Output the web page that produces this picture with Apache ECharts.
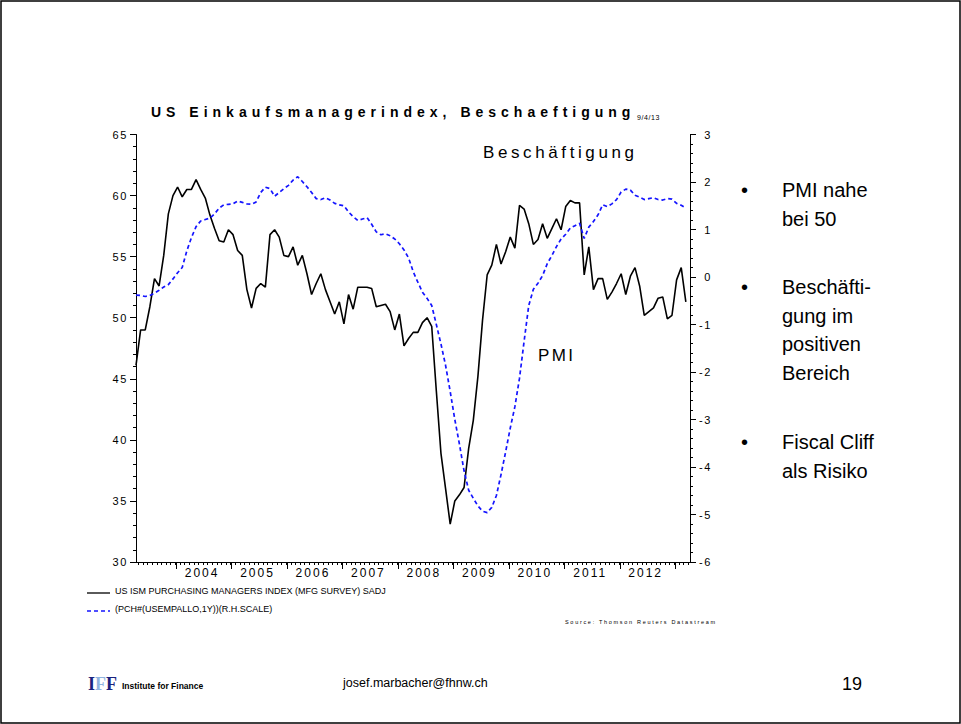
<!DOCTYPE html>
<html>
<head>
<meta charset="utf-8">
<script src="https://cdn.jsdelivr.net/npm/echarts@6/dist/echarts.min.js"></script>
<style>
  html, body { margin: 0; padding: 0; background: #fff; }
  #main { width: 961px; height: 724px; }
</style>
</head>
<body>
<div id="main"></div>
<script>
// Monthly observations, April 2003 to March 2013 (index 0 = Apr 2003)
const startYear = 2003;
const startMonth = 4; // April

// US ISM Purchasing Managers Index (manufacturing), left scale
const pmi = [
  46.1, 49.0, 49.0, 50.9, 53.2, 52.6, 55.1, 58.5, 60.0, 60.7,
  59.9, 60.5, 60.5, 61.3, 60.5, 59.8, 58.4, 57.3, 56.3, 56.2,
  57.2, 56.8, 55.5, 55.1, 52.3, 50.8, 52.4, 52.8, 52.5, 56.8,
  57.2, 56.6, 55.1, 55.0, 55.8, 54.3, 55.1, 53.6, 51.9, 52.8,
  53.6, 52.3, 51.3, 50.3, 51.3, 49.5, 51.9, 50.7, 52.5, 52.5,
  52.5, 52.4, 50.9, 51.0, 51.1, 50.5, 49.0, 50.3, 47.7, 48.3,
  48.8, 48.8, 49.6, 50.0, 49.3, 44.0, 38.9, 36.0, 33.1, 35.0,
  35.5, 36.1, 39.3, 41.6, 45.2, 49.8, 53.5, 54.3, 56.0, 54.4,
  55.4, 56.6, 55.7, 59.2, 58.9, 57.7, 56.0, 56.4, 57.7, 56.5,
  57.3, 58.1, 57.2, 59.1, 59.6, 59.4, 59.4, 53.5, 55.8, 52.3,
  53.2, 53.2, 51.5, 52.1, 52.8, 53.6, 51.9, 53.4, 54.1, 52.6,
  50.2, 50.5, 50.8, 51.6, 51.7, 49.9, 50.2, 53.1, 54.1, 51.3
];

// Employment, % change on a year earlier, right scale
const employment = [
  -0.38, -0.39, -0.41, -0.39, -0.34, -0.28, -0.21, -0.16, -0.04, 0.09,
  0.20, 0.55, 0.83, 1.06, 1.18, 1.21, 1.24, 1.33, 1.45, 1.52,
  1.53, 1.54, 1.60, 1.57, 1.54, 1.53, 1.58, 1.78, 1.89, 1.86,
  1.70, 1.78, 1.86, 1.93, 2.04, 2.11, 2.01, 1.90, 1.78, 1.65,
  1.63, 1.67, 1.62, 1.55, 1.52, 1.50, 1.37, 1.27, 1.19, 1.22,
  1.25, 1.11, 0.95, 0.89, 0.91, 0.87, 0.80, 0.70, 0.57, 0.40,
  0.11, -0.11, -0.32, -0.45, -0.60, -1.00, -1.41, -1.86, -2.41, -3.00,
  -3.52, -4.08, -4.49, -4.66, -4.82, -4.93, -4.96, -4.85, -4.60, -4.16,
  -3.68, -3.18, -2.73, -2.13, -1.35, -0.60, -0.26, -0.13, 0.03, 0.28,
  0.45, 0.64, 0.80, 0.90, 1.03, 1.08, 1.13, 0.81, 1.05, 1.17,
  1.31, 1.52, 1.48, 1.54, 1.63, 1.79, 1.85, 1.83, 1.72, 1.68,
  1.63, 1.65, 1.67, 1.63, 1.62, 1.65, 1.64, 1.55, 1.51, 1.45
];

// Year labels on the time axis
const yearLabels = ['2004', '2005', '2006', '2007', '2008', '2009', '2010', '2011', '2012'];

// Axis tick labels
const leftTicks = [30, 35, 40, 45, 50, 55, 60, 65];
const rightTicks = [-6, -5, -4, -3, -2, -1, 0, 1, 2, 3];

const seriesNames = [
  'US ISM PURCHASING MANAGERS INDEX (MFG SURVEY) SADJ',
  '(PCH#(USEMPALLO,1Y))(R.H.SCALE)'
];
const chartTitle = 'US Einkaufsmanagerindex, Beschaeftigung';
const bullets = [
  ['PMI nahe', 'bei 50'],
  ['Beschäfti-', 'gung im', 'positiven', 'Bereich'],
  ['Fiscal Cliff', 'als Risiko']
];

const FONT = '"Liberation Sans", Arial, Helvetica, sans-serif';
const PMI_COLOR = '#000';
const EMP_COLOR = '#1414ff';

// month index of a January of a given year
const janIndex = y => (y - startYear) * 12 - (startMonth - 1);
const lastIndex = pmi.length - 1;

// month boundaries (minor ticks) and year boundaries (major ticks)
const monthTicks = [];
for (let i = 0; i <= lastIndex + 1; i++) monthTicks.push(i - 0.5);
const yearTicks = [];
for (let y = 2004; y <= 2013; y++) yearTicks.push(janIndex(y) - 0.3);
const yearMids = yearLabels.map(y => janIndex(+y) + 5.3);

const pmiData = pmi.map((v, i) => [i, v]);
const empData = employment.map((v, i) => [i, v]);

const xMin = 0, xMax = lastIndex + 0.9;

const chart = echarts.init(document.getElementById('main'), null, { renderer: 'svg' });

const bulletGraphics = [];
const bulletTops = [190, 287, 442];
bullets.forEach((lines, b) => {
  bulletGraphics.push({
    type: 'text', x: 741, y: bulletTops[b],
    style: { text: '•', font: '20px ' + FONT, fill: '#000', textVerticalAlign: 'middle' }
  });
  lines.forEach((line, j) => {
    bulletGraphics.push({
      type: 'text', x: 782, y: bulletTops[b] + j * 28.5,
      style: { text: line, font: '20px ' + FONT, fill: '#000', textVerticalAlign: 'middle' }
    });
  });
});

// key below the plot: one line sample and one caption per series
const keyGraphics = [
  { type: 'line', shape: { x1: 87, y1: 593, x2: 110, y2: 593 },
    style: { stroke: PMI_COLOR, lineWidth: 1.3 }, silent: true },
  { type: 'text', x: 115, y: 591,
    style: { text: seriesNames[0], font: '9px ' + FONT, fill: '#000', textVerticalAlign: 'middle' } },
  { type: 'line', shape: { x1: 87, y1: 611, x2: 110, y2: 611 },
    style: { stroke: EMP_COLOR, lineWidth: 1.6, lineDash: [4, 3] }, silent: true },
  { type: 'text', x: 115, y: 609,
    style: { text: seriesNames[1], font: '9px ' + FONT, fill: '#000', textVerticalAlign: 'middle' } }
];

chart.setOption({
  animation: false,
  backgroundColor: '#fff',
  grid: { left: 136, right: 271, top: 134.5, bottom: 162, containLabel: false },
  xAxis: [
    {
      type: 'value', min: xMin, max: xMax,
      axisLine: { show: true, onZero: false, lineStyle: { color: '#000', width: 1 } },
      axisTick: { show: true, customValues: monthTicks, length: 3, lineStyle: { color: '#000' } },
      axisLabel: { show: false },
      splitLine: { show: false }
    },
    {
      type: 'value', min: xMin, max: xMax, position: 'bottom',
      axisLine: { show: false, onZero: false },
      axisTick: { show: true, customValues: yearTicks, length: 7, lineStyle: { color: '#000' } },
      axisLabel: {
        show: true, customValues: yearMids, margin: 5,
        fontFamily: FONT, fontSize: 12, color: '#000',
        formatter: v => yearLabels[yearMids.indexOf(v)] || ''
      },
      splitLine: { show: false }
    }
  ],
  yAxis: [
    {
      type: 'value', position: 'left', min: leftTicks[0], max: leftTicks[leftTicks.length - 1], interval: 5,
      axisLine: { show: true, onZero: false, lineStyle: { color: '#000' } },
      axisTick: { show: true, length: 6, lineStyle: { color: '#000' } },
      minorTick: { show: true, splitNumber: 5, length: 3, lineStyle: { color: '#000' } },
      axisLabel: { fontFamily: FONT, fontSize: 11, color: '#000', margin: 8 },
      splitLine: { show: false }
    },
    {
      type: 'value', position: 'right', min: rightTicks[0], max: rightTicks[rightTicks.length - 1], interval: 1,
      axisLine: { show: true, onZero: false, lineStyle: { color: '#000' } },
      axisTick: { show: true, length: 6, lineStyle: { color: '#000' } },
      minorTick: { show: true, splitNumber: 5, length: 3, lineStyle: { color: '#000' } },
      axisLabel: { fontFamily: FONT, fontSize: 11, color: '#000', align: 'right', margin: 22 },
      splitLine: { show: false }
    }
  ],
  series: [
    {
      name: seriesNames[0], type: 'line', xAxisIndex: 0, yAxisIndex: 0,
      data: pmiData, symbol: 'none', smooth: false,
      lineStyle: { color: PMI_COLOR, width: 1.6 }, itemStyle: { color: PMI_COLOR }
    },
    {
      name: seriesNames[1], type: 'line', xAxisIndex: 0, yAxisIndex: 1,
      data: empData, symbol: 'none', smooth: false,
      lineStyle: { color: EMP_COLOR, width: 1.7, type: [4, 3] }, itemStyle: { color: EMP_COLOR }
    }
  ],
  graphic: [
    // slide frame
    { type: 'rect', shape: { x: 1, y: 1, width: 959, height: 722 },
      style: { fill: 'none', stroke: '#000', lineWidth: 1.5 }, silent: true },
    { type: 'text', x: 151, y: 112,
      style: { text: chartTitle, font: 'bold 14px ' + FONT, fill: '#000', textVerticalAlign: 'middle' } },
    { type: 'text', x: 637, y: 117,
      style: { text: '9/4/13', font: '7px ' + FONT, fill: '#000', textVerticalAlign: 'middle' } },
    { type: 'text', x: 483, y: 152,
      style: { text: 'Beschäftigung', font: '17px ' + FONT, fill: '#000', textVerticalAlign: 'middle' } },
    { type: 'text', x: 538, y: 355,
      style: { text: 'PMI', font: '17px ' + FONT, fill: '#000', textVerticalAlign: 'middle' } },
    { type: 'text', x: 565, y: 622,
      style: { text: 'Source: Thomson Reuters Datastream', font: '5.5px ' + FONT, fill: '#000', textVerticalAlign: 'middle' } },
    // footer
    { type: 'text', x: 88, y: 684,
      style: { text: '{a|I}{b|F}{a|F}', fill: '#000', textVerticalAlign: 'middle',
        rich: {
          a: { font: 'bold 18px "Liberation Serif", "Times New Roman", serif', fill: '#1a237e' },
          b: { font: 'bold 18px "Liberation Serif", "Times New Roman", serif', fill: '#8fb3e0' }
        } } },
    { type: 'text', x: 122, y: 686,
      style: { text: 'Institute for Finance', font: 'bold 8.5px ' + FONT, fill: '#000', textVerticalAlign: 'middle' } },
    { type: 'text', x: 343, y: 683,
      style: { text: 'josef.marbacher@fhnw.ch', font: '12.5px ' + FONT, fill: '#000', textVerticalAlign: 'middle' } },
    { type: 'text', x: 842, y: 684,
      style: { text: '19', font: '18px ' + FONT, fill: '#000', textVerticalAlign: 'middle' } }
  ].concat(keyGraphics, bulletGraphics)
});

// Datastream-style wide letter spacing for chart texts
function spacingFor(t) {
  if (t === chartTitle) return 5.0;
  if (t === 'Beschäftigung') return 3.6;
  if (t === 'PMI') return 2.4;
  if (t === '9/4/13') return 0.6;
  if (t === 'Source: Thomson Reuters Datastream') return 1.7;
  if (/^\d{4}$/.test(t)) return 2.0;
  if (/^-?\d{1,2}$/.test(t) && t !== '19') return 1.6;
  return 0;
}
function applySpacing() {
  document.querySelectorAll('#main svg text').forEach(el => {
    const s = spacingFor(el.textContent);
    if (s) el.setAttribute('letter-spacing', s + 'px');
  });
}
applySpacing();
chart.on('finished', applySpacing);
setTimeout(applySpacing, 50);
</script>
</body>
</html>
